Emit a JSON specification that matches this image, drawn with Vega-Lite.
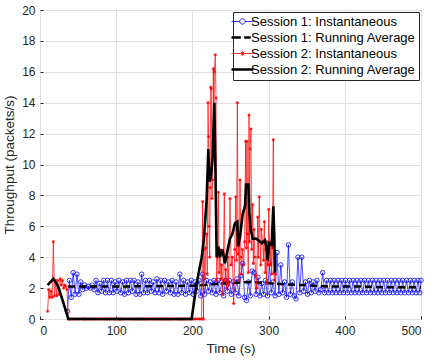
{
  "$schema": "https://vega.github.io/schema/vega-lite/v6.json",
  "width": 381,
  "height": 309,
  "autosize": {"type": "none"},
  "padding": {"left": 40, "top": 10, "right": 15, "bottom": 41},
  "background": "white",
  "config": {
    "view": {"stroke": "#262626", "strokeWidth": 1},
    "font": "Liberation Sans",
    "axis": {
      "domain": false,
      "ticks": true,
      "tickSize": -3,
      "tickColor": "#262626",
      "grid": true,
      "gridColor": "#dfdfdf",
      "gridWidth": 1,
      "labelFont": "Liberation Sans",
      "labelFontSize": 12,
      "labelColor": "#262626",
      "titleFont": "Liberation Sans",
      "titleFontSize": 13.5,
      "titleFontWeight": "normal",
      "titleColor": "#262626"
    }
  },
  "datasets": {
    "s1": [
      {"t":36,"v":0.5},{"t":38.5,"v":2.5},{"t":41,"v":1.4},{"t":43.5,"v":3.0},{"t":46,"v":1.6},{"t":48.5,"v":2.9},{"t":51,"v":1.6},{"t":53.5,"v":2.4},{"t":56,"v":1.9},{"t":58.5,"v":2.2},
      {"t":61,"v":2.0},{"t":63.5,"v":2.1},{"t":66,"v":2.0},{"t":68.5,"v":2.2},{"t":71,"v":1.9},{"t":73.5,"v":2.5},{"t":76,"v":1.7},{"t":78.5,"v":2.3},{"t":81,"v":1.8},{"t":83.5,"v":2.5},
      {"t":86,"v":1.7},{"t":88.5,"v":2.5},{"t":91,"v":1.7},{"t":93.5,"v":2.5},{"t":96,"v":1.7},{"t":98.5,"v":2.4},{"t":101,"v":1.8},{"t":103.5,"v":2.5},{"t":106,"v":1.7},{"t":108.5,"v":2.4},
      {"t":111,"v":1.6},{"t":113.5,"v":2.5},{"t":116,"v":1.7},{"t":118.5,"v":2.5},{"t":121,"v":1.8},{"t":123.5,"v":2.5},{"t":126,"v":1.6},{"t":128.5,"v":2.4},{"t":131,"v":1.6},{"t":133.5,"v":2.9},
      {"t":136,"v":1.7},{"t":138.5,"v":2.5},{"t":141,"v":1.7},{"t":143.5,"v":2.5},{"t":146,"v":1.8},{"t":148.5,"v":2.4},{"t":151,"v":1.7},{"t":153.5,"v":2.6},{"t":156,"v":1.7},{"t":158.5,"v":2.5},
      {"t":161,"v":1.6},{"t":163.5,"v":2.5},{"t":166,"v":1.8},{"t":168.5,"v":2.4},{"t":171,"v":1.7},{"t":173.5,"v":2.5},{"t":176,"v":1.6},{"t":178.5,"v":2.4},{"t":181,"v":1.6},{"t":183.5,"v":2.9},
      {"t":186,"v":1.7},{"t":188.5,"v":2.5},{"t":191,"v":1.6},{"t":193.5,"v":2.4},{"t":196,"v":1.7},{"t":198.5,"v":2.5},{"t":201,"v":1.6},{"t":203.5,"v":2.4},{"t":206,"v":1.8},{"t":208.5,"v":2.5},
      {"t":211,"v":1.5},{"t":213.5,"v":2.9},{"t":216,"v":1.6},{"t":218.5,"v":2.5},{"t":221,"v":1.8},{"t":223.5,"v":2.4},{"t":226,"v":1.7},{"t":228.5,"v":2.5},{"t":231,"v":1.6},{"t":233.5,"v":2.5},
      {"t":236,"v":1.7},{"t":238.5,"v":2.4},{"t":241,"v":1.5},{"t":243.5,"v":2.5},{"t":246,"v":1.8},{"t":248.5,"v":2.5},{"t":251,"v":1.6},{"t":253.5,"v":2.4},{"t":256,"v":1.7},{"t":258.5,"v":2.6},
      {"t":261,"v":1.5},{"t":263.5,"v":2.8},{"t":266,"v":3.6},{"t":268.5,"v":1.4},{"t":271,"v":1.2},{"t":273.5,"v":2.4},{"t":276,"v":1.5},{"t":278.5,"v":3.1},{"t":281,"v":3.0},{"t":283.5,"v":1.6},
      {"t":286,"v":2.7},{"t":288.5,"v":1.5},{"t":291,"v":2.3},{"t":293.5,"v":1.6},{"t":296,"v":2.5},{"t":298.5,"v":1.5},{"t":301,"v":3.6},{"t":303.5,"v":1.7},{"t":306,"v":2.4},{"t":308.5,"v":1.5},
      {"t":311,"v":4.3},{"t":313.5,"v":1.6},{"t":316,"v":3.5},{"t":318.5,"v":1.7},{"t":321,"v":2.4},{"t":323.5,"v":1.4},{"t":326,"v":4.8},{"t":328.5,"v":1.6},{"t":331,"v":2.4},{"t":333.5,"v":1.5},
      {"t":336,"v":1.3},{"t":338.5,"v":4.0},{"t":341,"v":1.7},{"t":343.5,"v":4.0},{"t":346,"v":1.8},{"t":348.5,"v":2.4},{"t":351,"v":1.6},{"t":353.5,"v":2.5},{"t":356,"v":1.7},{"t":358.5,"v":2.4},
      {"t":361,"v":1.8},{"t":363.5,"v":2.5},{"t":366,"v":1.7},{"t":368.5,"v":1.9},{"t":371,"v":3.0},{"t":373.5,"v":1.7},{"t":376,"v":2.5},{"t":378.5,"v":1.7},{"t":381,"v":2.5},{"t":383.5,"v":1.7},
      {"t":386,"v":2.5},{"t":388.5,"v":1.7},{"t":391,"v":2.5},{"t":393.5,"v":1.7},{"t":396,"v":2.5},{"t":398.5,"v":1.7},{"t":401,"v":2.5},{"t":403.5,"v":1.7},{"t":406,"v":2.5},{"t":408.5,"v":1.7},
      {"t":411,"v":2.5},{"t":413.5,"v":1.7},{"t":416,"v":2.5},{"t":418.5,"v":1.7},{"t":421,"v":2.5},{"t":423.5,"v":1.7},{"t":426,"v":2.5},{"t":428.5,"v":1.7},{"t":431,"v":2.5},{"t":433.5,"v":1.7},
      {"t":436,"v":2.5},{"t":438.5,"v":1.7},{"t":441,"v":2.5},{"t":443.5,"v":1.7},{"t":446,"v":2.5},{"t":448.5,"v":1.7},{"t":451,"v":2.5},{"t":453.5,"v":1.7},{"t":456,"v":2.5},{"t":458.5,"v":1.7},
      {"t":461,"v":2.5},{"t":463.5,"v":1.7},{"t":466,"v":2.5},{"t":468.5,"v":1.7},{"t":471,"v":2.5},{"t":473.5,"v":1.7},{"t":476,"v":2.5},{"t":478.5,"v":1.7},{"t":481,"v":2.5},{"t":483.5,"v":1.7},
      {"t":486,"v":2.5},{"t":488.5,"v":1.7},{"t":491,"v":2.5},{"t":493.5,"v":1.7},{"t":496,"v":2.5},{"t":498.5,"v":1.7},{"t":500,"v":2.5}
    ],
    "s1avg": [
      {"t":37,"v":2.1},{"t":100,"v":2.1},{"t":200,"v":2.15},{"t":215,"v":2.2},{"t":240,"v":2.3},{"t":260,"v":2.35},{"t":275,"v":2.4},{"t":290,"v":2.35},{"t":305,"v":2.3},{"t":320,"v":2.25},{"t":340,"v":2.2},{"t":360,"v":2.15},{"t":380,"v":2.1},{"t":420,"v":2.1},{"t":460,"v":2.05},{"t":500,"v":2.05}
    ],
    "s2": [
      {"t":10,"v":0.5},{"t":11.5,"v":1.9},{"t":13,"v":1.4},{"t":14.5,"v":1.8},{"t":16,"v":1.4},{"t":17.5,"v":5.0},{"t":19,"v":1.5},{"t":20.5,"v":2.5},{"t":22,"v":1.5},{"t":23.5,"v":2.5},
      {"t":25,"v":1.6},{"t":26.5,"v":2.6},{"t":28,"v":2.2},{"t":29.5,"v":2.5},{"t":31,"v":2.0},{"t":32.5,"v":2.2},{"t":34,"v":2.1},{"t":35.5,"v":1.9},{"t":37,"v":0},
      {"t":39.5,"v":0},{"t":42,"v":0},{"t":44.5,"v":0},{"t":47,"v":0},{"t":49.5,"v":0},{"t":52,"v":0},{"t":54.5,"v":0},{"t":57,"v":0},{"t":59.5,"v":0},{"t":62,"v":0},
      {"t":64.5,"v":0},{"t":67,"v":0},{"t":69.5,"v":0},{"t":72,"v":0},{"t":74.5,"v":0},{"t":77,"v":0},{"t":79.5,"v":0},{"t":82,"v":0},{"t":84.5,"v":0},{"t":87,"v":0},
      {"t":89.5,"v":0},{"t":92,"v":0},{"t":94.5,"v":0},{"t":97,"v":0},{"t":99.5,"v":0},{"t":102,"v":0},{"t":104.5,"v":0},{"t":107,"v":0},{"t":109.5,"v":0},{"t":112,"v":0},
      {"t":114.5,"v":0},{"t":117,"v":0},{"t":119.5,"v":0},{"t":122,"v":0},{"t":124.5,"v":0},{"t":127,"v":0},{"t":129.5,"v":0},{"t":132,"v":0},{"t":134.5,"v":0},{"t":137,"v":0},
      {"t":139.5,"v":0},{"t":142,"v":0},{"t":144.5,"v":0},{"t":147,"v":0},{"t":149.5,"v":0},{"t":152,"v":0},{"t":154.5,"v":0},{"t":157,"v":0},{"t":159.5,"v":0},{"t":162,"v":0},
      {"t":164.5,"v":0},{"t":167,"v":0},{"t":169.5,"v":0},{"t":172,"v":0},{"t":174.5,"v":0},{"t":177,"v":0},{"t":179.5,"v":0},{"t":182,"v":0},{"t":184.5,"v":0},{"t":187,"v":0},
      {"t":189.5,"v":0},{"t":192,"v":0},{"t":194.5,"v":0},{"t":197,"v":0},{"t":199.5,"v":0},{"t":202,"v":0},{"t":204.5,"v":0},{"t":207,"v":0},{"t":209.5,"v":0},{"t":212,"v":0},
      {"t":213.5,"v":7.6},{"t":214.5,"v":0},{"t":215.2,"v":4.5},{"t":216.5,"v":2.6},{"t":217.5,"v":4.6},{"t":218.7,"v":5.5},{"t":219.5,"v":2.9},{"t":220.5,"v":14.0},{"t":221.2,"v":11.8},{"t":221.8,"v":6.0},
      {"t":222.7,"v":4.0},{"t":223.3,"v":8.5},{"t":224.0,"v":15.0},{"t":224.8,"v":14.9},{"t":225.7,"v":7.8},{"t":226.5,"v":9.0},{"t":227.5,"v":16.2},{"t":228.2,"v":11.0},{"t":228.8,"v":16.0},{"t":230.1,"v":17.1},
      {"t":231.0,"v":14.3},{"t":231.8,"v":2.5},{"t":233.0,"v":4.0},{"t":234.0,"v":8.2},{"t":235.0,"v":3.0},{"t":236.2,"v":4.5},{"t":237.5,"v":2.6},{"t":238.5,"v":3.5},{"t":239.7,"v":1.6},{"t":240.8,"v":4.2},
      {"t":241.9,"v":8.1},{"t":243.0,"v":2.5},{"t":243.7,"v":3.2},{"t":245.0,"v":2.0},{"t":246.3,"v":4.0},{"t":247.5,"v":2.2},{"t":249.3,"v":7.8},{"t":250.8,"v":3.5},{"t":252.4,"v":4.0},{"t":254.2,"v":1.0},
      {"t":255.5,"v":4.5},{"t":256.8,"v":7.9},{"t":257.8,"v":3.8},{"t":259.0,"v":14.0},{"t":260.0,"v":4.2},{"t":260.7,"v":5.2},{"t":261.5,"v":2.5},{"t":262.5,"v":9.0},{"t":263.5,"v":4.0},{"t":264.2,"v":2.9},
      {"t":265.5,"v":4.5},{"t":267.3,"v":3.5},{"t":268.5,"v":5.0},{"t":269.9,"v":11.5},{"t":270.8,"v":4.6},{"t":271.6,"v":11.5},{"t":272.5,"v":5.5},{"t":273.3,"v":3.0},{"t":274.3,"v":13.2},{"t":275.0,"v":5.0},
      {"t":275.6,"v":11.0},{"t":276.9,"v":12.3},{"t":277.8,"v":4.5},{"t":279.1,"v":7.4},{"t":280.0,"v":3.6},{"t":280.8,"v":5.8},{"t":282.1,"v":4.0},{"t":283.0,"v":2.8},{"t":284.3,"v":2.0},{"t":285.7,"v":6.6},
      {"t":286.5,"v":4.0},{"t":287.8,"v":7.9},{"t":288.8,"v":5.0},{"t":289.6,"v":3.5},{"t":290.5,"v":5.8},{"t":292.2,"v":5.0},{"t":293.2,"v":3.8},{"t":294.4,"v":6.3},{"t":295.5,"v":3.0},{"t":296.5,"v":4.5},
      {"t":297.5,"v":2.3},{"t":298.5,"v":5.0},{"t":299.5,"v":3.5},{"t":300.1,"v":7.1},{"t":301.2,"v":4.8},{"t":302.3,"v":3.5},{"t":303.2,"v":5.0},{"t":304.0,"v":2.9},{"t":305.0,"v":4.6},{"t":306.2,"v":11.6},
      {"t":307.1,"v":3.0},{"t":308.0,"v":2.5},{"t":309.0,"v":2.9}
    ],
    "s2avg": [
      {"t":10,"v":2.2},{"t":17.5,"v":2.6},{"t":22.7,"v":2.2},{"t":25.3,"v":1.9},{"t":37.2,"v":0},{"t":199,"v":0},{"t":205.6,"v":2.3},{"t":212.2,"v":4.0},{"t":215,"v":5.1},{"t":218.7,"v":7.7},
      {"t":220.9,"v":11.0},{"t":222.2,"v":8.9},{"t":224.4,"v":9.2},{"t":226.6,"v":10.5},{"t":228.8,"v":14.0},{"t":230.1,"v":10.0},{"t":231.8,"v":4.0},{"t":234,"v":4.7},{"t":236.2,"v":4.0},{"t":239.3,"v":4.5},
      {"t":242.8,"v":3.6},{"t":245.9,"v":4.4},{"t":249.3,"v":5.2},{"t":252.4,"v":5.5},{"t":255.9,"v":6.2},{"t":259,"v":6.3},{"t":259.9,"v":4.7},{"t":262.5,"v":5.3},{"t":266,"v":6.8},{"t":269,"v":7.3},
      {"t":270.4,"v":8.7},{"t":273.5,"v":8.7},{"t":274.8,"v":6.9},{"t":276.5,"v":5.8},{"t":279.1,"v":5.2},{"t":283.4,"v":5.2},{"t":286.6,"v":5.1},{"t":291,"v":4.9},{"t":295.3,"v":5.1},{"t":297.5,"v":4.5},
      {"t":298.9,"v":3.8},{"t":301,"v":4.9},{"t":304,"v":4.8},{"t":306.2,"v":7.3},{"t":307.5,"v":5.3},{"t":308.4,"v":3.0}
    ]
  },
  "encoding": {
    "x": {"field": "t", "type": "quantitative", "title": "Time (s)",
      "scale": {"domain": [0, 500], "nice": false},
      "axis": {"values": [0, 100, 200, 300, 400, 500], "labelPadding": 9, "titlePadding": 5}},
    "y": {"field": "v", "type": "quantitative", "title": "Throughput (packets/s)",
      "scale": {"domain": [0, 20], "nice": false},
      "axis": {"values": [0, 2, 4, 6, 8, 10, 12, 14, 16, 18, 20], "labelPadding": 8, "titlePadding": 5}}
  },
  "layer": [
    {"data": {"name": "s1"}, "mark": {"type": "line", "strokeWidth": 0.7},
      "encoding": {"color": {"datum": "Session 1: Instantaneous", "type": "nominal",
        "scale": {"domain": ["Session 1: Instantaneous", "Session 1: Running Average", "Session 2: Instantaneous", "Session 2: Running Average"],
                  "range": ["#0000ff", "#000000", "#ff0000", "#000000"]},
        "legend": {
          "title": null, "orient": "top-right", "offset": 2,
          "fillColor": "white", "strokeColor": "#262626", "padding": 3,
          "labelFont": "Liberation Sans", "labelFontSize": 13, "labelColor": "#000000", "labelOffset": 2, "labelLimit": 0,
          "symbolSize": 484, "rowPadding": 2,
          "encode": {"symbols": {"update": {
            "shape": {"signal": "datum.value == 'Session 1: Instantaneous' ? 'M-1,0H-0.25M0.25,0H1M0.25,0L0.217,0.125L0.125,0.217L0,0.25L-0.125,0.217L-0.217,0.125L-0.25,0L-0.217,-0.125L-0.125,-0.217L0,-0.25L0.125,-0.217L0.217,-0.125Z' : (datum.value == 'Session 2: Instantaneous' ? 'M-1,0H1M0,-0.22V0.22M-0.16,-0.16L0.16,0.16M-0.16,0.16L0.16,-0.16' : (datum.value == 'Session 1: Running Average' ? 'M-1,0H-0.15M0.15,0H0.75' : 'M-1,0H1'))"},
            "strokeWidth": {"signal": "datum.value == 'Session 1: Running Average' || datum.value == 'Session 2: Running Average' ? 2.5 : 0.8"},
            "fill": {"value": "transparent"}
          }}}
        }}}},
    {"data": {"name": "s1"}, "mark": {"type": "point", "shape": "circle", "filled": false, "stroke": "#0000ff", "strokeWidth": 0.8, "size": 20, "opacity": 1}},
    {"data": {"name": "s1avg"}, "mark": {"type": "line", "strokeWidth": 2.5, "strokeDash": [7, 4]},
      "encoding": {"color": {"datum": "Session 1: Running Average", "type": "nominal"}}},
    {"data": {"name": "s2"}, "mark": {"type": "line", "strokeWidth": 0.7},
      "encoding": {"color": {"datum": "Session 2: Instantaneous", "type": "nominal"}}},
    {"data": {"name": "s2"}, "mark": {"type": "point", "shape": "M-1,0H1M0,-1V1M-0.7,-0.7L0.7,0.7M-0.7,0.7L0.7,-0.7", "filled": false, "stroke": "#ff0000", "strokeWidth": 0.8, "size": 10, "opacity": 1}},
    {"data": {"name": "s2avg"}, "mark": {"type": "line", "strokeWidth": 2.6},
      "encoding": {"color": {"datum": "Session 2: Running Average", "type": "nominal"}}}
  ]
}
